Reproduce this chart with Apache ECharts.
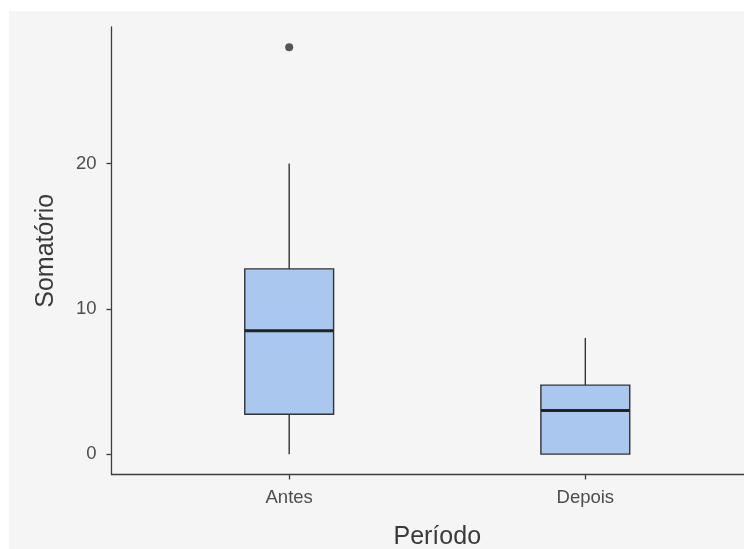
<!DOCTYPE html>
<html>
<head>
<meta charset="utf-8">
<script src="https://cdn.jsdelivr.net/npm/echarts@6/dist/echarts.min.js"></script>
<style>
html,body{margin:0;padding:0;background:#ffffff;width:744px;height:549px;overflow:hidden;position:relative;}
#chart{position:absolute;left:9px;top:11px;width:754px;height:538px;background:#f5f5f5;}
</style>
</head>
<body>
<div id="chart"></div>
<script>
const categories = ['Antes', 'Depois'];
const whiskerLow = [0, 0];
const q1Values = [2.75, 0];
const medians = [8.5, 3];
const q3Values = [12.75, 4.75];
const whiskerHigh = [20, 8];
const outliers = [[1, 28]];
const yTicks = [0, 10, 20];

const boxData = categories.map((c, i) => [i + 1, whiskerLow[i], q1Values[i], medians[i], q3Values[i], whiskerHigh[i]]);

const chart = echarts.init(document.getElementById('chart'));
const axisColor = '#3d3d3d';
const tickText = '#4d4d4d';
const titleText = '#3a3a3a';
const font = 'Liberation Sans, Arial, sans-serif';

chart.setOption({
  animation: false,
  backgroundColor: '#f5f5f5',
  grid: {left: 102.5, right: 0, top: 16, bottom: 74.5, containLabel: false, outerBoundsMode: 'none'},
  xAxis: {
    type: 'value', min: 0.4, max: 2.6,
    name: 'Período', nameLocation: 'middle', nameGap: 50,
    nameTextStyle: {fontSize: 25, color: titleText, fontFamily: font},
    axisLine: {show: true, onZero: false, lineStyle: {color: axisColor, width: 1.3}},
    axisTick: {show: true, length: 5, customValues: [1, 2], lineStyle: {color: axisColor, width: 1.3}},
    axisLabel: {customValues: [1, 2], margin: 14, fontSize: 18.5, color: tickText, fontFamily: font,
      formatter: v => categories[Math.round(v) - 1] || ''},
    splitLine: {show: false}
  },
  yAxis: {
    type: 'value', min: -1.4, max: 29.4,
    name: 'Somatório', nameLocation: 'middle', nameGap: 53, nameRotate: 90,
    nameTextStyle: {fontSize: 25, color: titleText, fontFamily: font},
    axisLine: {show: true, onZero: false, lineStyle: {color: axisColor, width: 1.3}},
    axisTick: {show: true, length: 5, customValues: yTicks, lineStyle: {color: axisColor, width: 1.3}},
    axisLabel: {customValues: yTicks, margin: 15, fontSize: 18.5, color: tickText, fontFamily: font},
    splitLine: {show: false}
  },
  series: [
    {
      type: 'custom',
      data: boxData,
      encode: {x: 0, y: [1, 2, 3, 4, 5]},
      renderItem: function (params, api) {
        const x = api.value(0);
        const lo = api.value(1), q1 = api.value(2), med = api.value(3), q3 = api.value(4), hi = api.value(5);
        const hw = api.size([0.15, 0])[0];
        const pLo = api.coord([x, lo]);
        const pQ1 = api.coord([x, q1]);
        const pMed = api.coord([x, med]);
        const pQ3 = api.coord([x, q3]);
        const pHi = api.coord([x, hi]);
        const lineStyle = {stroke: '#333333', lineWidth: 1.4};
        return {
          type: 'group',
          children: [
            {type: 'line', shape: {x1: pQ1[0], y1: pQ1[1], x2: pLo[0], y2: pLo[1]}, style: lineStyle},
            {type: 'line', shape: {x1: pQ3[0], y1: pQ3[1], x2: pHi[0], y2: pHi[1]}, style: lineStyle},
            {type: 'rect', shape: {x: pQ3[0] - hw, y: pQ3[1], width: 2 * hw, height: pQ1[1] - pQ3[1]},
              style: {fill: '#a9c7ef', stroke: '#333333', lineWidth: 1.4}},
            {type: 'line', shape: {x1: pMed[0] - hw, y1: pMed[1], x2: pMed[0] + hw, y2: pMed[1]},
              style: {stroke: '#222222', lineWidth: 3}}
          ]
        };
      }
    },
    {
      type: 'scatter',
      data: outliers,
      symbol: 'circle',
      symbolSize: 8,
      itemStyle: {color: '#2e2e2e'}
    }
  ]
});
</script>
</body>
</html>
